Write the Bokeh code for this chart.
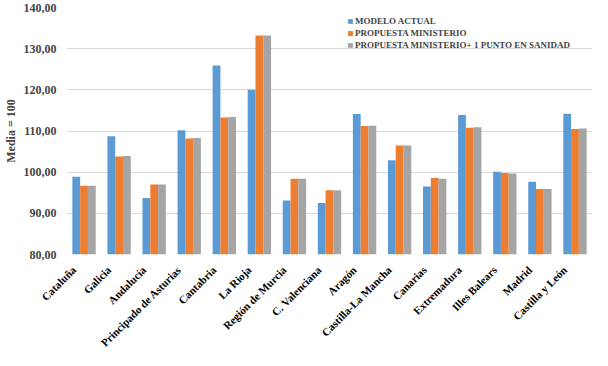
from math import pi
from bokeh.plotting import figure
from bokeh.models import (FactorRange, Range1d, ColumnDataSource, FixedTicker,
                          CustomJSTickFormatter, Legend, LegendItem)
from bokeh.core.properties import value
from bokeh.transform import dodge
from bokeh.embed import file_html
from bokeh.resources import INLINE

regions = ["Cataluña", "Galicia", "Andalucía", "Principado de Asturias", "Cantabria",
           "La Rioja", "Región de Murcia", "C. Valenciana", "Aragón", "Castilla-La Mancha",
           "Canarias", "Extremadura", "Illes Balears", "Madrid", "Castilla y León"]
modelo_actual = [98.9, 108.7, 93.7, 110.2, 125.9, 120.0, 93.1, 92.5, 114.1, 102.9, 96.5, 113.9, 100.1, 97.7, 114.2]
propuesta_ministerio = [96.7, 103.8, 97.0, 108.2, 113.3, 133.2, 98.4, 95.6, 111.2, 106.5, 98.6, 110.8, 99.8, 95.9, 110.5]
propuesta_sanidad = [96.7, 103.9, 97.0, 108.3, 113.4, 133.2, 98.4, 95.6, 111.3, 106.5, 98.4, 110.9, 99.7, 95.9, 110.6]
series_names = ["MODELO ACTUAL", "PROPUESTA MINISTERIO", "PROPUESTA MINISTERIO+ 1 PUNTO EN SANIDAD"]
y_ticks = [80, 90, 100, 110, 120, 130, 140]
colors = ["#5B9BD5", "#ED7D31", "#A5A5A5"]

y_min, y_max = y_ticks[0], y_ticks[-1]

src = ColumnDataSource(dict(region=regions, a=modelo_actual, b=propuesta_ministerio, c=propuesta_sanidad,
                            base=[y_min] * len(regions)))

FONT = "Liberation Serif"

p = figure(x_range=FactorRange(*regions, range_padding=0), y_range=Range1d(y_min, y_max),
           width=592, height=350, output_backend="svg", toolbar_location=None,
           min_border_left=60, min_border_right=0, min_border_top=7, min_border_bottom=96)

w = 0.222
renderers = []
for key, off, col in zip(["a", "b", "c"], [-w, 0, w], colors):
    r = p.vbar(x=dodge("region", off, range=p.x_range), top=key, bottom="base", width=w,
               source=src, fill_color=col, line_color=None)
    renderers.append(r)

# slanted category labels under the baseline
p.text(x="region", y="base", text="region", source=src, angle=pi / 4, level="overlay",
       text_align="right", text_baseline="middle", x_offset=-10, y_offset=13.5,
       text_font=value(FONT), text_font_style="bold", text_font_size="11px", text_color="#000000")

legend = Legend(items=[LegendItem(label=n, renderers=[r]) for n, r in zip(series_names, renderers)],
                location=(281, 204), orientation="vertical")
legend.label_text_font = FONT
legend.label_text_font_style = "bold"
legend.label_text_font_size = "9px"
legend.label_height = 10
legend.glyph_width = 6
legend.glyph_height = 6
legend.spacing = 2
legend.padding = 0
legend.margin = 0
legend.label_standoff = 2
legend.background_fill_alpha = 0
legend.border_line_color = None
p.add_layout(legend)

p.yaxis.ticker = FixedTicker(ticks=y_ticks)
p.yaxis.formatter = CustomJSTickFormatter(code="return tick.toFixed(2).replace('.', ',');")
p.yaxis.axis_label = "Media = 100"
p.yaxis.axis_label_text_font = FONT
p.yaxis.axis_label_text_font_style = "bold"
p.yaxis.axis_label_text_font_size = "12px"
p.yaxis.axis_label_standoff = 3
p.yaxis.major_label_text_font = FONT
p.yaxis.major_label_text_font_style = "bold"
p.yaxis.major_label_text_font_size = "12px"
p.yaxis.major_label_standoff = 4
p.yaxis.axis_line_color = None
p.yaxis.major_tick_line_color = None
p.yaxis.minor_tick_line_color = None

p.xaxis.visible = False

p.xgrid.grid_line_color = None
p.ygrid.grid_line_color = "#D9D9D9"
p.outline_line_color = None

open("out.html", "w").write(file_html(p, INLINE))
